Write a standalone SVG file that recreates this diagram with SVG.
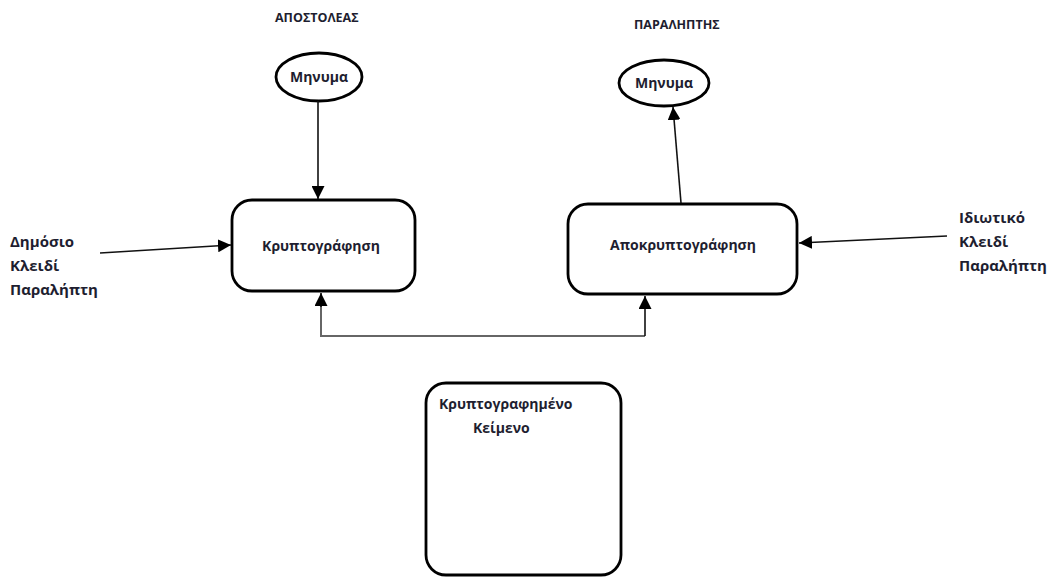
<svg xmlns="http://www.w3.org/2000/svg" width="1059" height="579" viewBox="0 0 1059 579">
<style>
text{font-family:"Open Sans","Liberation Sans",sans-serif;font-weight:bold;font-size:14px;fill:#1e1e30}
.t{font-size:12.5px}
.s{font-size:15px}
.shape{fill:#fff;stroke:#000;stroke-width:2.8}
.ln{stroke:#111;stroke-width:1.6;fill:none}
.gr{stroke:#666;stroke-width:2;fill:none}
</style>
<defs>
<marker id="ah" viewBox="0 0 12 12" refX="12" refY="6" markerWidth="13" markerHeight="13" markerUnits="userSpaceOnUse" orient="auto">
<path d="M0,0 L12,6 L0,12 Z" fill="#000"/>
</marker>
</defs>
<g id="labels">
<text class="t" x="275" y="22">ΑΠΟΣΤΟΛΕΑΣ</text>
<text class="t" x="634" y="29">ΠΑΡΑΛΗΠΤΗΣ</text>
</g>
<g id="msg-sender">
<ellipse class="shape" cx="319" cy="77" rx="43" ry="24"/>
<text x="319" y="82" text-anchor="middle">Μηνυμα</text>
</g>
<g id="msg-receiver">
<ellipse class="shape" cx="664" cy="83" rx="45" ry="23"/>
<text x="664" y="88" text-anchor="middle">Μηνυμα</text>
</g>
<g id="encrypt">
<rect class="shape" x="232" y="200" width="183" height="91" rx="20" ry="20"/>
<text x="321" y="251" text-anchor="middle">Κρυπτογράφηση</text>
</g>
<g id="decrypt">
<rect class="shape" x="568" y="204" width="229" height="90" rx="20" ry="20"/>
<text x="683" y="250" text-anchor="middle">Αποκρυπτογράφηση</text>
</g>
<g id="public-key">
<text class="s" x="10" y="247">Δημόσιο</text>
<text class="s" x="10" y="271">Κλειδί</text>
<text class="s" x="10" y="295">Παραλήπτη</text>
</g>
<g id="private-key">
<text class="s" x="959" y="223">Ιδιωτικό</text>
<text class="s" x="959" y="247">Κλειδί</text>
<text class="s" x="959" y="271">Παραλήπτη</text>
</g>
<g id="ciphertext">
<rect class="shape" x="426" y="383" width="195" height="192" rx="20" ry="20"/>
<text x="439" y="409">Κρυπτογραφημένο</text>
<text x="473" y="433">Κείμενο</text>
</g>
<g id="connectors">
<line class="ln" x1="318" y1="101" x2="318" y2="199" marker-end="url(#ah)"/>
<line class="ln" x1="681" y1="203" x2="673" y2="107" marker-end="url(#ah)"/>
<line class="ln" x1="100" y1="253" x2="231" y2="245" marker-end="url(#ah)"/>
<line class="ln" x1="947" y1="236" x2="799" y2="243" marker-end="url(#ah)"/>
<polyline class="gr" points="645,336 321,336 321,306"/>
<line class="ln" x1="321" y1="307" x2="321" y2="293" marker-end="url(#ah)"/>
<line class="ln" x1="645" y1="336" x2="645" y2="296" marker-end="url(#ah)"/>
</g>
</svg>
